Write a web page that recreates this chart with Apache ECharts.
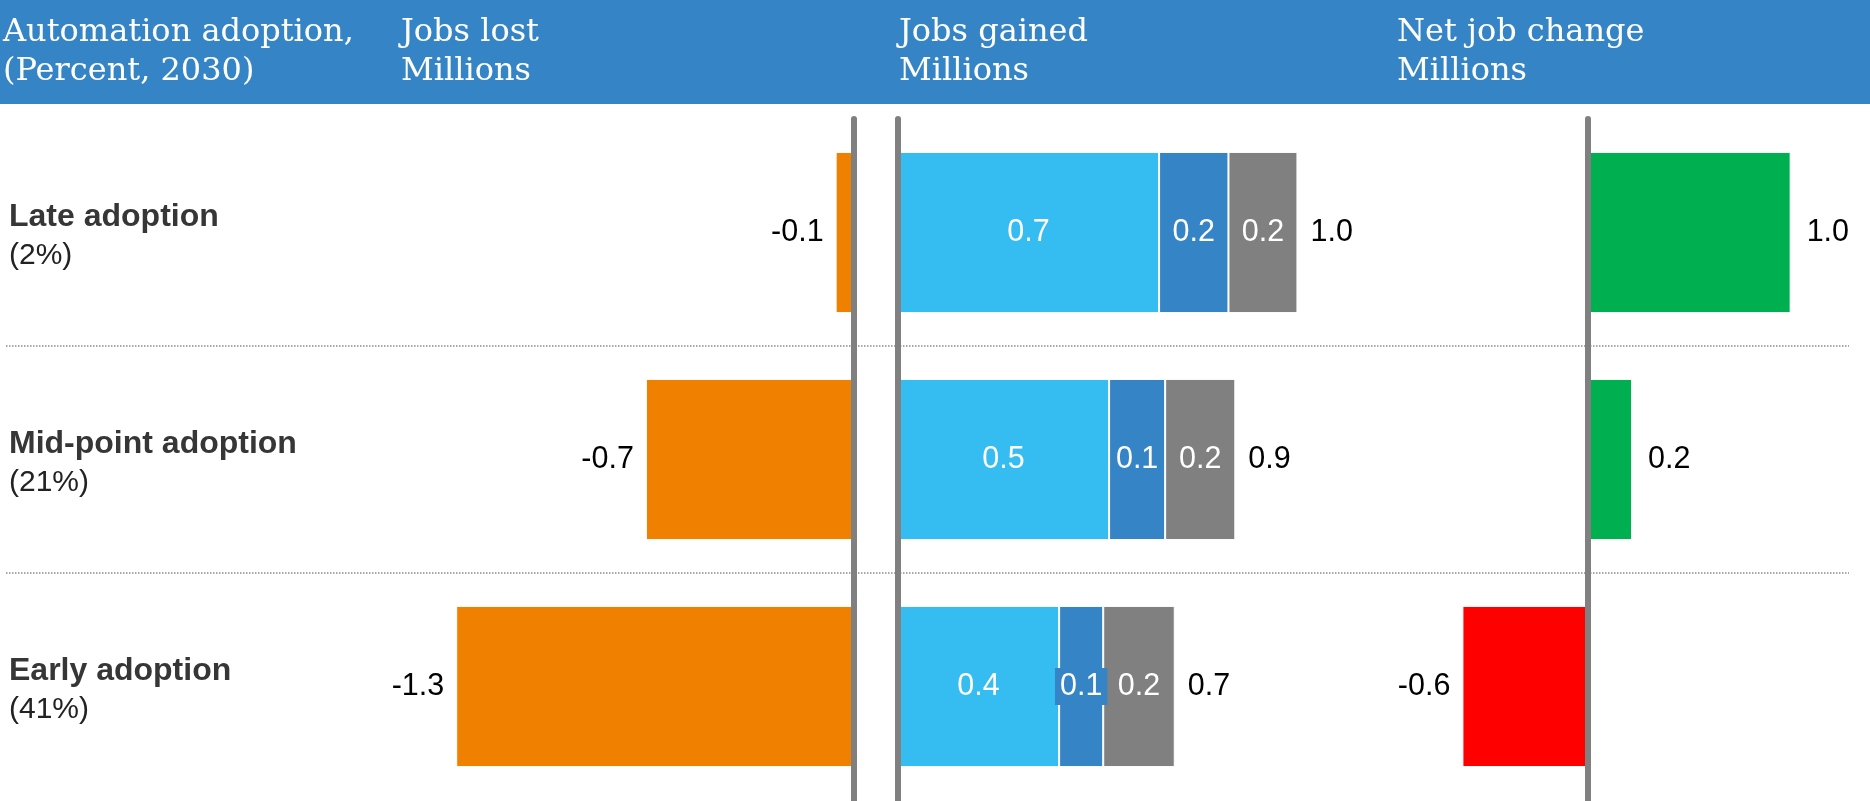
<!DOCTYPE html>
<html><head><meta charset="utf-8">
<script src="https://cdn.jsdelivr.net/npm/echarts@6/dist/echarts.min.js"></script>
<style>html,body{margin:0;padding:0;background:#fff;overflow:hidden}#c{width:1870px;height:801px}</style>
</head><body><div id="c"></div>
<script>
// ---- data ----
const categories = ['Late adoption', 'Mid-point adoption', 'Early adoption'];
const adoptionShare = ['(2%)', '(21%)', '(41%)'];
const jobsLost = [-0.06, -0.68, -1.30];
const gainedSeg1 = [0.666, 0.5385, 0.411];
const gainedSeg2 = [0.177, 0.143, 0.1125];
const gainedSeg3 = [0.176, 0.179, 0.1825];
const netChange = [0.965, 0.21, -0.598];
const headerTexts = ['Automation adoption,\n(Percent, 2030)', 'Jobs lost\nMillions', 'Jobs gained\nMillions', 'Net job change\nMillions'];

// ---- derived ----
const gainedTotal = gainedSeg1.map((v, i) => v + gainedSeg2[i] + gainedSeg3[i]);
const fmt = v => (Math.round(v * 10) / 10).toFixed(1);

const SANS = "'Liberation Sans', Arial, sans-serif";
const SERIF = "'DejaVu Serif', Georgia, serif";
const TOP = 119, H = 681;
const BARW = '71%';
const border = { borderColor: '#ffffff', borderWidth: 1 };
const valLabel = { show: true, fontFamily: SANS, fontSize: 30.5, color: '#000' };

const chart = echarts.init(document.getElementById('c'), null, { renderer: 'canvas' });

const headerX = [3, 401, 899, 1397];
const graphic = [{ type: 'rect', shape: { x: 0, y: 0, width: 1870, height: 104 }, style: { fill: '#3585C6' }, z: -1, silent: true }]
  .concat(headerTexts.map((t, i) => ({
    type: 'text', x: headerX[i], y: 13, silent: true,
    style: { text: t, fill: '#ffffff', fontFamily: SERIF, fontSize: 32, lineHeight: 39, verticalAlign: 'top', align: 'left' }
  })));

const axisLineCommon = { show: true, onZero: true, lineStyle: { color: '#808080', width: 6 } };

const option = {
  animation: false,
  backgroundColor: '#ffffff',
  graphic: graphic,
  grid: [
    { left: 6, width: 1843, top: TOP, height: H },
    { left: 242, width: 612, top: TOP, height: H },
    { left: 898, width: 470.4, top: TOP, height: H },
    { left: 1378, width: 462, top: TOP, height: H }
  ],
  xAxis: [
    { gridIndex: 0, type: 'value', min: 0, max: 1, show: false },
    { gridIndex: 1, type: 'value', min: -2, max: 0, show: false },
    { gridIndex: 2, type: 'value', min: 0, max: 1.2, show: false },
    { gridIndex: 3, type: 'value', min: -1, max: 1.2, show: false }
  ],
  yAxis: [
    {
      gridIndex: 0, type: 'category', data: categories, inverse: true,
      axisLine: { show: false }, axisTick: { show: false },
      axisLabel: {
        inside: true, margin: 3, align: 'left', padding: [8, 0, 0, 0],
        formatter: (v, i) => '{b|' + v + '}\n{r|' + adoptionShare[i] + '}',
        rich: {
          b: { fontFamily: SANS, fontWeight: 'bold', fontSize: 32, lineHeight: 38, color: '#363636' },
          r: { fontFamily: SANS, fontSize: 30, lineHeight: 38, color: '#222222' }
        }
      },
      splitLine: { show: true, showMinLine: false, showMaxLine: false, lineStyle: { color: '#8c8c8c', width: 1.5, type: [1.5, 1.5] } }
    },
    { gridIndex: 1, type: 'category', data: categories, inverse: true, z: 10, axisLine: axisLineCommon, axisTick: { show: false }, axisLabel: { show: false }, splitLine: { show: false } },
    { gridIndex: 2, type: 'category', data: categories, inverse: true, z: 10, axisLine: axisLineCommon, axisTick: { show: false }, axisLabel: { show: false }, splitLine: { show: false } },
    { gridIndex: 3, type: 'category', data: categories, inverse: true, z: 10, axisLine: axisLineCommon, axisTick: { show: false }, axisLabel: { show: false }, splitLine: { show: false } }
  ],
  series: [
    {
      name: 'Jobs lost', type: 'bar', xAxisIndex: 1, yAxisIndex: 1, barWidth: BARW,
      data: jobsLost,
      itemStyle: Object.assign({ color: '#F08000' }, border),
      label: Object.assign({}, valLabel, { position: 'left', distance: 12, formatter: p => fmt(p.value) })
    },
    {
      name: 'Gained 1', type: 'bar', stack: 'g', xAxisIndex: 2, yAxisIndex: 2, barWidth: BARW,
      data: gainedSeg1,
      itemStyle: Object.assign({ color: '#35BDF2' }, border),
      label: Object.assign({}, valLabel, { position: 'inside', color: '#fff', formatter: p => fmt(p.value) })
    },
    {
      name: 'Gained 2', type: 'bar', stack: 'g', xAxisIndex: 2, yAxisIndex: 2, barWidth: BARW,
      data: gainedSeg2.map(v => v < 0.12
        ? { value: v, label: { backgroundColor: '#3585C6', padding: [3, 5] } }
        : v),
      itemStyle: Object.assign({ color: '#3585C6' }, border),
      label: Object.assign({}, valLabel, { position: 'inside', color: '#fff', formatter: p => fmt(p.value) })
    },
    {
      name: 'Gained 3', type: 'bar', stack: 'g', xAxisIndex: 2, yAxisIndex: 2, barWidth: BARW,
      data: gainedSeg3,
      itemStyle: Object.assign({ color: '#808080' }, border),
      label: Object.assign({}, valLabel, { position: 'inside', color: '#fff', formatter: p => fmt(p.value) })
    },
    {
      name: 'Gained total', type: 'bar', xAxisIndex: 2, yAxisIndex: 2, barWidth: BARW, barGap: '-100%', silent: true,
      data: gainedTotal,
      itemStyle: { color: 'rgba(0,0,0,0)' },
      label: Object.assign({}, valLabel, { position: 'right', distance: 13, formatter: p => fmt(p.value) })
    },
    {
      name: 'Net job change', type: 'bar', xAxisIndex: 3, yAxisIndex: 3, barWidth: BARW,
      data: netChange.map(v => ({
        value: v,
        itemStyle: { color: v >= 0 ? '#00B050' : '#FF0000' },
        label: { position: v >= 0 ? 'right' : 'left', distance: v >= 0 ? 16 : 12 }
      })),
      itemStyle: Object.assign({}, border),
      label: Object.assign({}, valLabel, { formatter: p => fmt(p.value) })
    }
  ]
};
chart.setOption(option);
</script>
</body></html>
